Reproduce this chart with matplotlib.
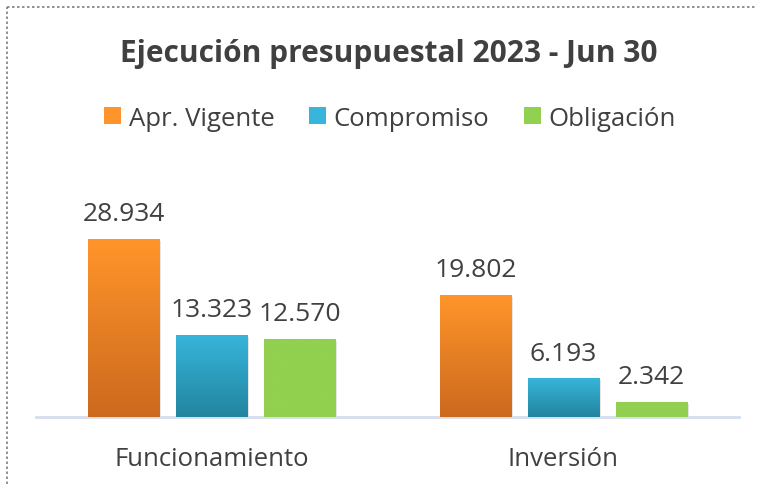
import matplotlib
matplotlib.use("Agg")
import matplotlib.pyplot as plt
import matplotlib.patches as mpatches
from matplotlib.colors import LinearSegmentedColormap
import numpy as np

plt.rcParams['font.family'] = ['Open Sans', 'DejaVu Sans']

categories = ["Funcionamiento", "Inversión"]
series = ["Apr. Vigente", "Compromiso", "Obligación"]
apr_vigente = [28934, 19802]
compromiso = [13323, 6193]
obligacion = [12570, 2342]
values = [apr_vigente, compromiso, obligacion]

# gradient colours (top, bottom) per series
grads = [("#FF952A", "#CC691E"), ("#37B5DA", "#22849F"), ("#92D050", "#92D050")]
text_col = "#404040"

fig = plt.figure(figsize=(7.57, 4.85), dpi=100)
ax = fig.add_axes([36 / 757, 1 - 418 / 485, 703 / 757, 258 / 485])

x = np.arange(len(categories))
width = 0.202
step = 0.25

for i, (name, vals) in enumerate(zip(series, values)):
    pos = x + (i - 1) * step
    bars = ax.bar(pos, vals, width, color="none", edgecolor="none", zorder=3)
    cmap = LinearSegmentedColormap.from_list(name, [grads[i][1], grads[i][0]])
    for b, v in zip(bars, vals):
        x0, y0 = b.get_x(), b.get_y()
        w, h = b.get_width(), b.get_height()
        # soft shadow
        sh = mpatches.Rectangle((x0 + 0.006, y0 - 250), w, h, color="#000000",
                                alpha=0.10, zorder=2, lw=0)
        ax.add_patch(sh)
        grad = np.linspace(0, 1, 256).reshape(-1, 1)
        ax.imshow(grad, cmap=cmap, extent=(x0, x0 + w, y0, y0 + h),
                  origin="lower", aspect="auto", zorder=3)
        ax.annotate(f"{v:,}".replace(",", "."), (x0 + w / 2, v), xytext=(0, 18.5),
                    textcoords="offset points", ha="center", va="center",
                    fontsize=19, color=text_col, zorder=4)

ax.set_xlim(-0.5, 1.5)
ax.set_ylim(0, 28934 * 258 / 178)
ax.set_yticks([])
ax.set_xticks(x)
ax.set_xticklabels(categories, fontsize=18.5, color=text_col)
ax.tick_params(axis="x", length=0, pad=21)
for s in ["top", "right", "left"]:
    ax.spines[s].set_visible(False)
ax.spines["bottom"].set_color("#D5DEEE")
ax.spines["bottom"].set_linewidth(2)

fig.text(389 / 757, 1 - 54 / 485, "Ejecución presupuestal 2023 - Jun 30",
         ha="center", va="center", fontsize=21.5, fontweight="bold", color=text_col)

handles = [mpatches.Patch(facecolor=grads[i][0], edgecolor="none") for i in range(3)]
leg = fig.legend(handles, series, loc="center", bbox_to_anchor=(390 / 757, 1 - 119 / 485),
                 ncol=3, frameon=False, fontsize=18.5, handlelength=0.65, handleheight=0.65,
                 handletextpad=0.3, columnspacing=1.35, labelcolor=text_col)

# dotted frame around the chart
fig.add_artist(plt.Line2D([7 / 757, 7 / 757], [0, 1 - 8 / 485], transform=fig.transFigure,
                          color="#7F7F7F", lw=1.2, ls=(0, (1.5, 1.5))))
fig.add_artist(plt.Line2D([7 / 757, 1], [1 - 8 / 485, 1 - 8 / 485], transform=fig.transFigure,
                          color="#7F7F7F", lw=1.2, ls=(0, (1.5, 1.5))))

fig.savefig("out.png", dpi=100)
